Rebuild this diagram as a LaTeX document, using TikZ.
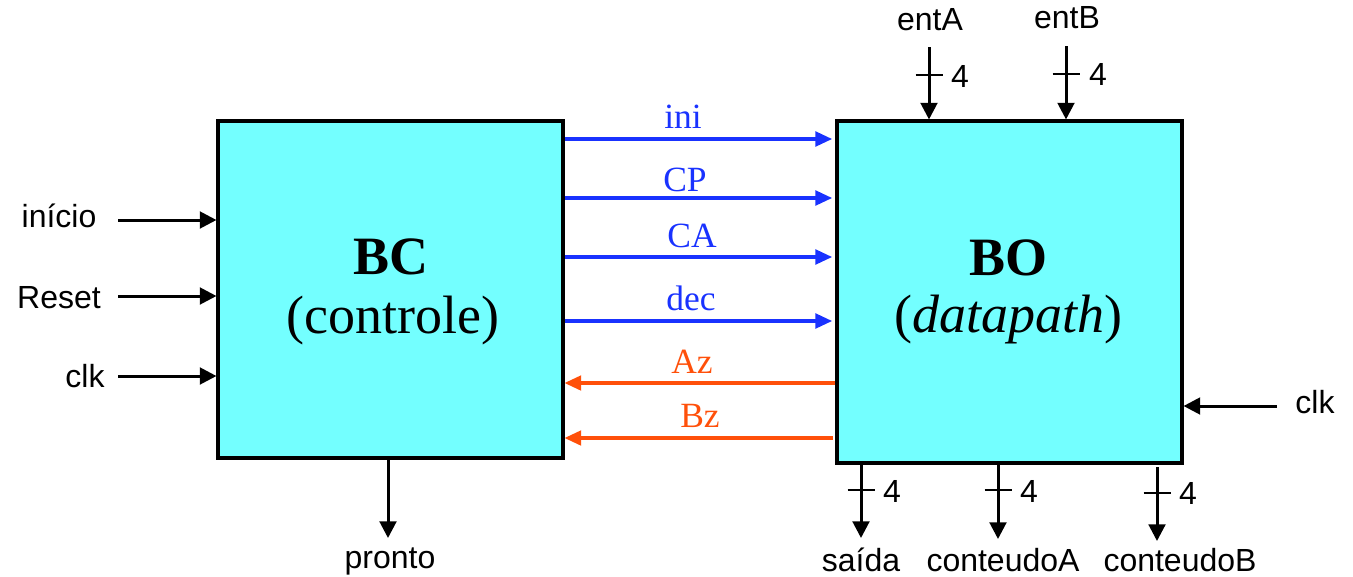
\documentclass[tikz,border=0pt]{standalone}
\usepackage{fontspec}
\setmainfont{Liberation Serif}
\setsansfont{Liberation Sans}
\usetikzlibrary{arrows.meta}
\definecolor{boxcyan}{RGB}{115,255,255}
\definecolor{sigblue}{RGB}{25,50,255}
\definecolor{sigorange}{RGB}{255,80,10}
\tikzset{
  blk/.style={draw=black, line width=2.3pt, fill=boxcyan, inner sep=0pt, minimum width=258.75pt},
  lbl/.style={font=\sffamily\fontsize{24}{28}\selectfont, inner sep=0pt, anchor=base},
  sig/.style={font=\fontsize{26.6}{30}\selectfont, inner sep=0pt, anchor=base},
  big/.style={font=\fontsize{40.5}{46}\selectfont, inner sep=0pt, anchor=base},
  arr/.style={line width=2.25pt, -{Triangle[length=12.5pt,width=12.5pt]}},
  barr/.style={line width=2.3pt, sigblue, -{Triangle[length=12.5pt,width=11pt]}},
  oarr/.style={line width=2.3pt, sigorange, -{Triangle[length=12.5pt,width=11pt]}},
  tick/.style={line width=2.2pt}
}
\begin{document}
\begin{tikzpicture}[x=0.75pt,y=-0.75pt]
\useasboundingbox (0,0) rectangle (1353,576);
% blocks
\node[blk, minimum height=252.75pt] (bc) at (390.5,289.5) {};
\node[blk, minimum height=256.5pt] (bo) at (1009.5,292) {};
\node[big, font=\bfseries\fontsize{40.5}{46}\selectfont] (bct) at (391,274) {BC};
\node[big] (bcs) at (393,333) {(controle)};
\node[big, font=\bfseries\fontsize{40.5}{46}\selectfont] (bot) at (1008,275) {BO};
\node[big] (bos) at (1008,332) {(\textit{datapath})};
% left inputs
\node[lbl] (inicio) at (59,227) {início};
\node[lbl] (reset) at (59,308) {Reset};
\node[lbl] (clka) at (85,387) {clk};
\coordinate (inicioS) at (118,220);
\coordinate (resetS) at (118,296);
\coordinate (clkaS) at (118,376);
\draw[arr] (inicioS) -- (bc.west |- inicioS);
\draw[arr] (resetS) -- (bc.west |- resetS);
\draw[arr] (clkaS) -- (bc.west |- clkaS);
% control signals
\node[sig, sigblue] (ini) at (683,128) {ini};
\node[sig, sigblue] (cp) at (685,191) {CP};
\node[sig, sigblue] (ca) at (692,247) {CA};
\node[sig, sigblue] (dec) at (691,310) {dec};
\node[sig, sigorange] (az) at (692,373) {Az};
\node[sig, sigorange] (bz) at (700,427) {Bz};
\draw[barr, shorten >=2.5pt] (bc.east |- 0,139) -- (bo.west |- 0,139);
\draw[barr, shorten >=2.5pt] (bc.east |- 0,198) -- (bo.west |- 0,198);
\draw[barr, shorten >=2.5pt] (bc.east |- 0,257) -- (bo.west |- 0,257);
\draw[barr, shorten >=2.5pt] (bc.east |- 0,321) -- (bo.west |- 0,321);
\draw[oarr] (bo.west |- 0,383) -- (bc.east |- 0,383);
\draw[oarr, shorten <=2pt] (bo.west |- 0,438) -- (bc.east |- 0,438);
% pronto
\node[lbl] (pronto) at (390,568) {pronto};
\coordinate (prontoE) at (388,538);
\draw[arr] (bc.south -| prontoE) -- (prontoE);
% top inputs
\node[lbl] (enta) at (930,30) {entA};
\node[lbl] (entb) at (1067,28) {entB};
\coordinate (entaS) at (929,47);
\coordinate (entbS) at (1066,46);
\draw[arr] (entaS) -- (bo.north -| entaS);
\draw[arr] (entbS) -- (bo.north -| entbS);
\draw[tick] (915.5,75) -- (942.5,75);
\draw[tick] (1052.5,74) -- (1079.5,74);
\node[lbl] (wa) at (960,87) {4};
\node[lbl] (wb) at (1098,85) {4};
% right clk
\node[lbl] (clkb) at (1315,413) {clk};
\coordinate (clkbS) at (1277,406);
\draw[arr] (clkbS) -- (bo.east |- clkbS);
% bottom outputs
\node[lbl] (saida) at (861,571) {saída};
\node[lbl] (conta) at (1003,571) {conteudoA};
\node[lbl] (contb) at (1180,571) {conteudoB};
\coordinate (saidaE) at (861,538);
\coordinate (contaE) at (998,539);
\coordinate (contbE) at (1157,541);
\coordinate (contbS) at (1157,467);
\draw[arr] (bo.south -| saidaE) -- (saidaE);
\draw[arr] (bo.south -| contaE) -- (contaE);
\draw[arr] (contbS) -- (contbE);
\draw[tick] (847.5,490) -- (874.5,490);
\draw[tick] (984.5,490) -- (1011.5,490);
\draw[tick] (1143.5,493) -- (1170.5,493);
\node[lbl] (wc) at (892,502) {4};
\node[lbl] (wd) at (1029,502) {4};
\node[lbl] (we) at (1188,504) {4};
\end{tikzpicture}
\end{document}
